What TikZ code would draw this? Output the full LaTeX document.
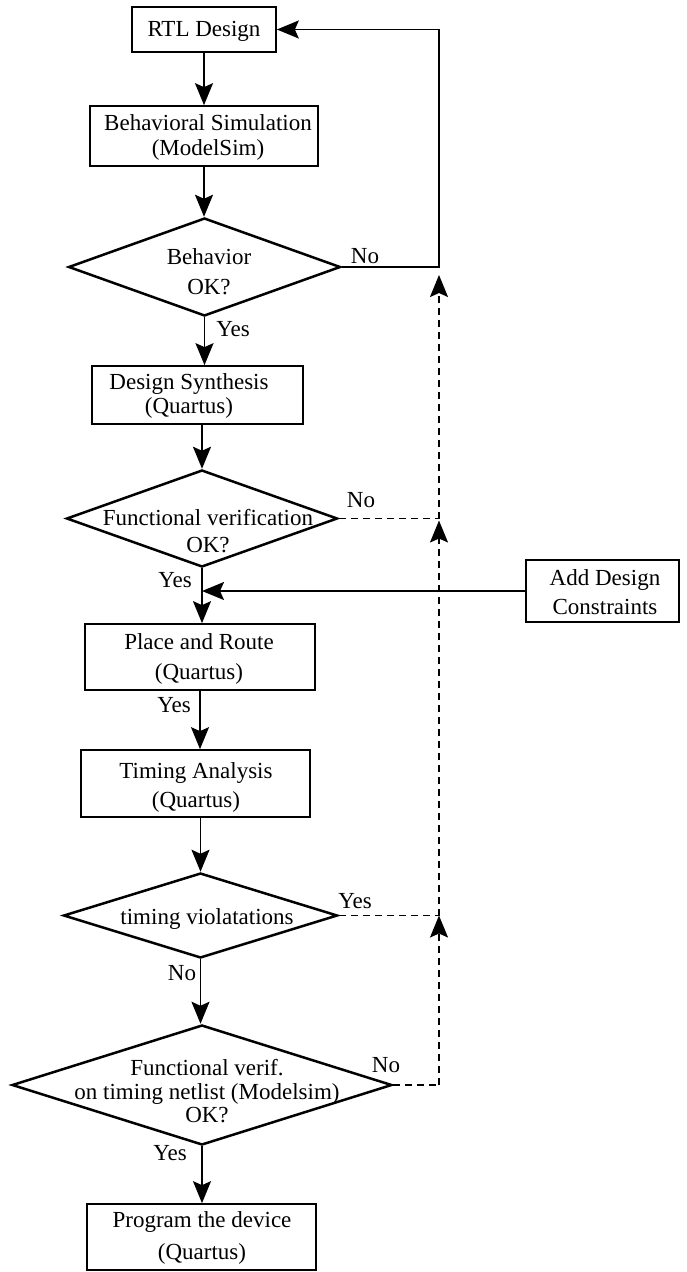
\documentclass[tikz,border=0pt]{standalone}
\usepackage{fontspec}
\setmainfont{Liberation Serif}
\usetikzlibrary{shapes.geometric,arrows.meta}

\begin{document}
\begin{tikzpicture}[x=1pt,y=-1pt,
  box/.style={draw, line width=1.7pt, rectangle, inner sep=0pt},
  decision/.style={draw, line width=2.5pt, diamond, inner sep=0pt},
  txt/.style={align=center, inner sep=0pt, font=\fontsize{23}{#1}\selectfont},
  txt/.default=25,
  lbl/.style={inner sep=0pt, font=\fontsize{23}{25}\selectfont},
  tip/.style={-{Stealth[length=22pt,width=18pt,inset=4pt]}},
  flow/.style={line width=1.8pt, tip},
  back/.style={line width=1.6pt, dash pattern=on 7pt off 5pt},
  backflow/.style={back, tip},
  ]
\useasboundingbox (0,0) rectangle (686,1272);

% process boxes
\node[box, minimum width=144pt, minimum height=45pt] (rtl) at (204,29.5) {};
\node[box, minimum width=228pt, minimum height=60pt] (beh) at (204,136) {};
\node[box, minimum width=211pt, minimum height=58pt] (syn) at (197.5,395) {};
\node[box, minimum width=153pt, minimum height=62pt] (adc) at (602.5,591) {};
\node[box, minimum width=230pt, minimum height=66pt] (par) at (200,657) {};
\node[box, minimum width=229pt, minimum height=67pt] (tim) at (195.5,783.5) {};
\node[box, minimum width=229pt, minimum height=66pt] (prg) at (201.5,1237) {};

% decisions
\node[decision, minimum width=272pt, minimum height=98pt] (d1) at (204.5,267) {};
\node[decision, minimum width=271pt, minimum height=97pt] (d2) at (202,518.5) {};
\node[decision, minimum width=274pt, minimum height=85pt] (d3) at (200.5,915.5) {};
\node[decision, minimum width=380pt, minimum height=120pt] (d4) at (202,1085) {};

% texts
\node[txt] (rtlT) at (204,31.7) {RTL Design};
\node[txt=25] (behT) at (208,137.5) {Behavioral Simulation\\(ModelSim)};
\node[txt=30] (d1T) at (209,272) {Behavior\\OK?};
\node[txt=24] (synT) at (189,396) {Design Synthesis\\(Quartus)};
\node[txt=27] (d2T) at (208,531.5) {Functional verification\\OK?};
\node[txt=29] (adcT) at (605,592.5) {Add Design\\Constraints};
\node[txt=30] (parT) at (199,659) {Place and Route\\(Quartus)};
\node[txt=29] (timT) at (196,787.5) {Timing Analysis\\(Quartus)};
\node[txt] (d3T) at (207,918.7) {timing violatations};
\node[txt=23.5] (d4T) at (207,1091.3) {Functional verif.\\on timing netlist (Modelsim)\\OK?};
\node[txt=32] (prgT) at (202,1238) {Program the device\\(Quartus)};

% branch labels
\node[lbl] (n1) at (365,256) {No};
\node[lbl] (y1) at (233,329) {Yes};
\node[lbl] (n2) at (361,500) {No};
\node[lbl] (y2) at (175,580) {Yes};
\node[lbl] (y3) at (174,705) {Yes};
\node[lbl] (y4) at (355,901) {Yes};
\node[lbl] (n3) at (182,973) {No};
\node[lbl] (n4) at (386,1065) {No};
\node[lbl] (y5) at (170,1153) {Yes};

% main flow
\draw[flow] (rtl.south) -- (rtl.south |- beh.north);
\draw[flow] (beh.south) -- (beh.south |- d1.north);
\draw[flow] (d1.south) -- (d1.south |- syn.north);
\draw[flow] (d2.north |- syn.south) -- (d2.north);
\draw[flow] (d2.south) -- (d2.south |- par.north);
\draw[flow] (adc.west) -- (adc.west -| d2.south);
\draw[flow] (par.south) -- (par.south |- tim.north);
\draw[flow] (d3.north |- tim.south) -- (d3.north);
\draw[flow] (d3.south) -- (d3.south |- d4.north);
\draw[flow] (d4.south) -- (d4.south |- prg.north);

% return rail
\coordinate (rail) at (439,0);
\coordinate (j1) at (rail |- d1.east);
\coordinate (j2) at (rail |- d2.east);
\coordinate (j3) at (rail |- d3.east);
\coordinate (j4) at (rail |- d4.east);
\draw[flow] (d1.east) -- (j1) |- (rtl.east);
\draw[back] (d2.east) -- (j2);
\draw[back] (d3.east) -- (j3);
\draw[back] (d4.east) -- (j4);
\draw[backflow, shorten >=8pt] (j2) -- (j1);
\draw[backflow, shorten >=2pt] (j3) -- (j2);
\draw[backflow] (j4) -- (j3);
\end{tikzpicture}
\end{document}
